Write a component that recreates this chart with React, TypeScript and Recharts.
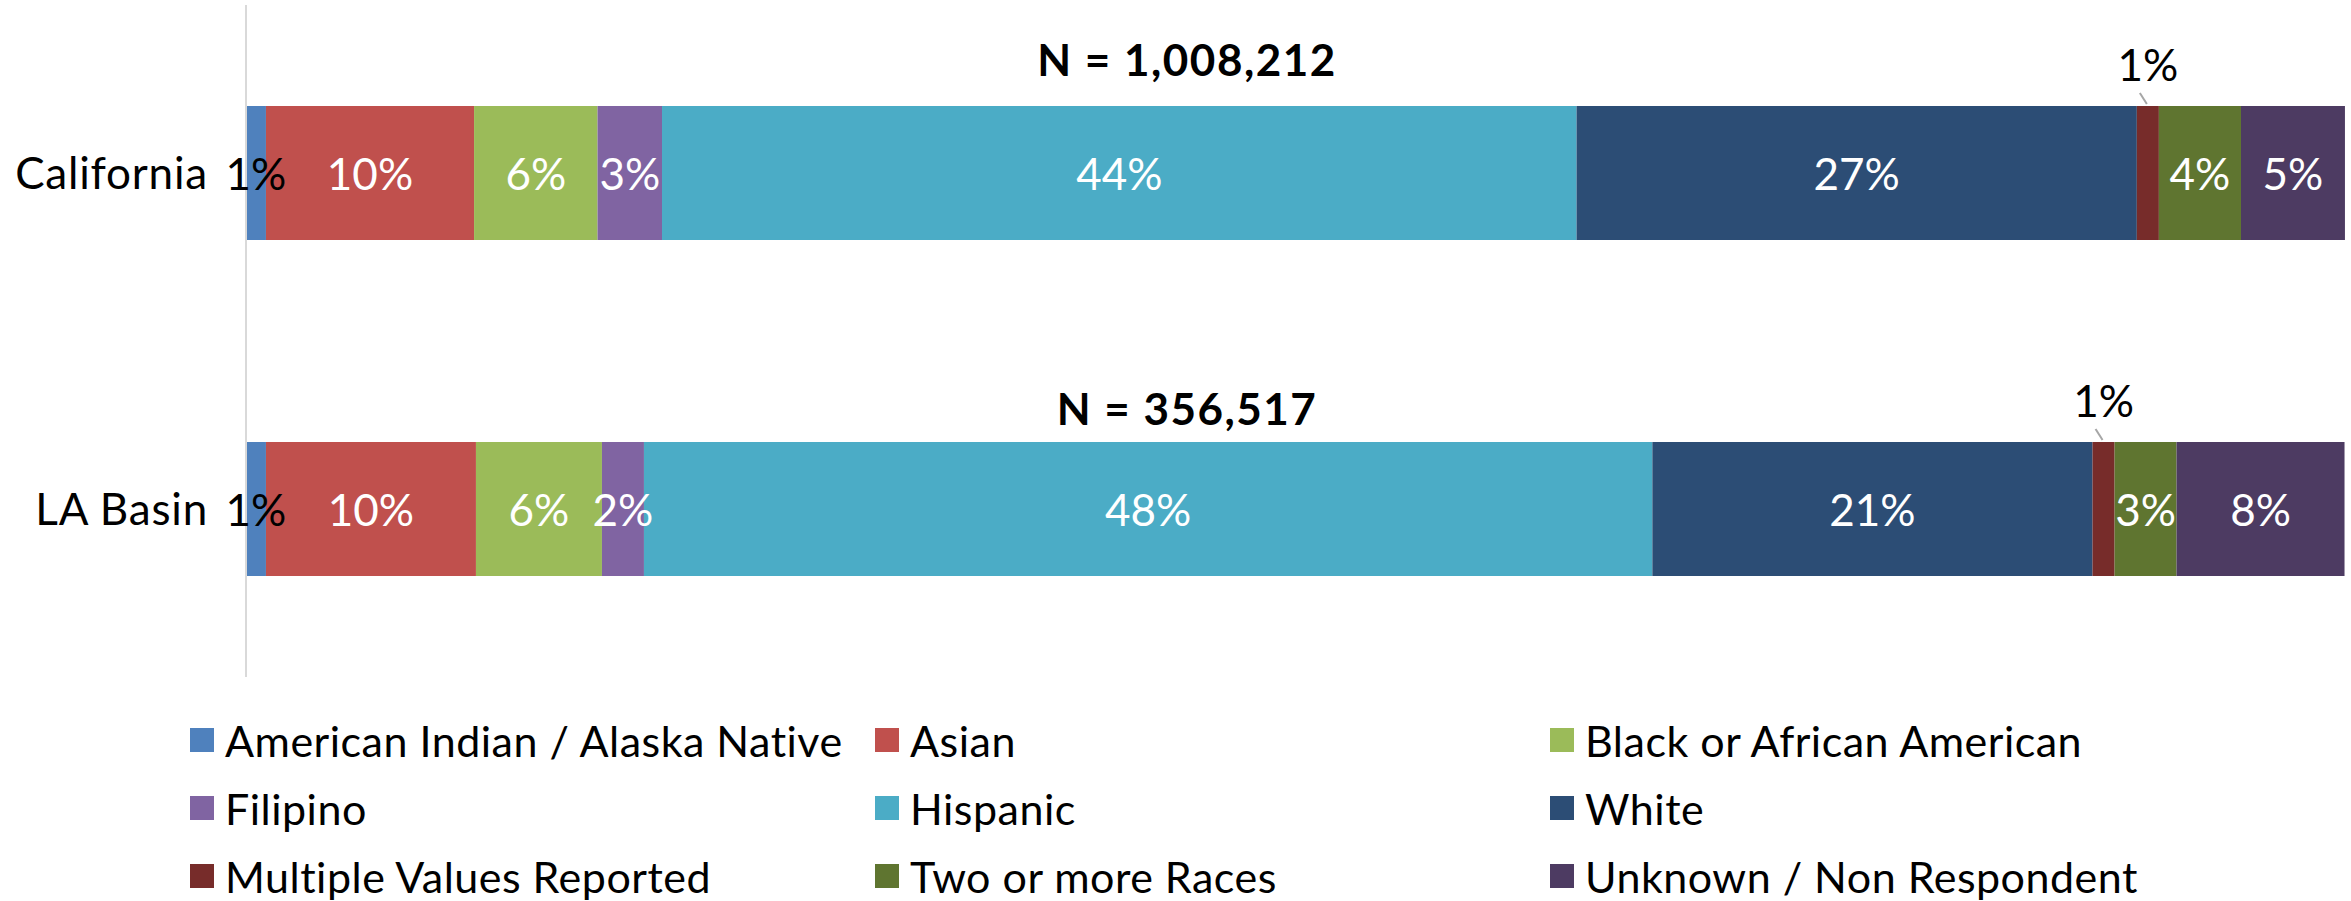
import { Bar, BarChart, LabelList, Legend, XAxis, YAxis } from "recharts";

const FONT = "Lato, 'Open Sans', sans-serif";

const regions = ["California", "LA Basin"];
const totals = ["N = 1,008,212", "N = 356,517"];

const groups = [
  "American Indian / Alaska Native",
  "Asian",
  "Black or African American",
  "Filipino",
  "Hispanic",
  "White",
  "Multiple Values Reported",
  "Two or more Races",
  "Unknown / Non Respondent",
];
const keys = ["ai", "asian", "black", "filipino", "hispanic", "white", "multiple", "two", "unknown"];
const colors = ["#4F81BD", "#C0504D", "#9BBB59", "#8064A2", "#4BACC6", "#2C4D75", "#772C2A", "#5F7530", "#4D3B62"];

// part en %
const california = [0.95, 9.91, 5.88, 3.07, 43.55, 26.68, 1.05, 3.91, 4.95];
const laBasin = [0.95, 10.0, 6.0, 2.0, 48.02, 20.96, 1.05, 2.95, 8.0];

const data = regions.map((name, i) => {
  const vals = i === 0 ? california : laBasin;
  const row: Record<string, string | number> = { name, total: totals[i] };
  keys.forEach((k, j) => (row[k] = vals[j]));
  return row;
});

const pct = (v: number) => `${Math.round(v)}%`;

// libellé de segment : blanc au centre, noir pour le 1er, au-dessus avec trait pour "Multiple"
const segLabel = (j: number) => (props: any) => {
  const { x, y, width, height, value } = props;
  const cx = x + width / 2;
  if (j === 6) {
    return (
      <g>
        <line x1={cx - 8} y1={y - 13} x2={cx - 1} y2={y - 2} stroke="#A6A6A6" strokeWidth={2} />
        <text x={cx} y={y - 42} textAnchor="middle" dominantBaseline="central" fontSize={44} fill="#000">
          {pct(value)}
        </text>
      </g>
    );
  }
  return (
    <text
      x={cx}
      y={y + height / 2}
      textAnchor="middle"
      dominantBaseline="central"
      fontSize={44}
      fill={j === 0 ? "#000" : "#fff"}
    >
      {pct(value)}
    </text>
  );
};

const totalLabel = (props: any) => {
  const { y, value, index } = props;
  return (
    <text
      x={1187}
      y={y - (index === 0 ? 47 : 34)}
      textAnchor="middle"
      dominantBaseline="central"
      fontSize={44}
      fontWeight={700}
      letterSpacing={1.5}
      fill="#000"
    >
      {value}
    </text>
  );
};

const LegendGrid = ({ payload }: any) => {
  const items = [...(payload ?? [])].sort((a: any, b: any) => groups.indexOf(a.value) - groups.indexOf(b.value));
  return (
    <div
      style={{
        display: "grid",
        gridTemplateColumns: "685px 675px 675px",
        gridAutoRows: "68px",
        fontFamily: FONT,
        fontSize: 43,
        letterSpacing: 0.5,
        color: "#000",
      }}
    >
      {items.map((p: any) => (
        <div key={p.value} style={{ display: "flex", alignItems: "center", whiteSpace: "nowrap" }}>
          <span style={{ width: 24, height: 24, background: p.color, marginRight: 11, flex: "none" }} />
          {p.value}
        </div>
      ))}
    </div>
  );
};

export default function App() {
  return (
    <div style={{ position: "absolute", left: 0, top: 0, background: "#fff", fontFamily: FONT }}>
      <BarChart
        width={2351}
        height={901}
        data={data}
        layout="vertical"
        margin={{ top: 5, right: 5, bottom: 224, left: 0 }}
      >
        <XAxis type="number" hide domain={[0, 100]} />
        <YAxis
          type="category"
          dataKey="name"
          width={246}
          tickLine={false}
          tickSize={0}
          tickMargin={38}
          axisLine={{ stroke: "#D9D9D9", strokeWidth: 2 }}
          tick={{ fontSize: 44, fill: "#000", fontFamily: FONT, letterSpacing: 0.8 }}
        />
        <Legend
          layout="horizontal"
          verticalAlign="middle"
          align="center"
          content={<LegendGrid />}
          wrapperStyle={{ top: 706, left: 190, width: 2100, height: 204 }}
        />
        {keys.map((k, j) => (
          <Bar key={k} dataKey={k} name={groups[j]} stackId="a" fill={colors[j]} barSize={134} isAnimationActive={false}>
            <LabelList dataKey={k} content={segLabel(j)} />
            {j === 0 && <LabelList dataKey="total" content={totalLabel} />}
          </Bar>
        ))}
      </BarChart>
    </div>
  );
}
